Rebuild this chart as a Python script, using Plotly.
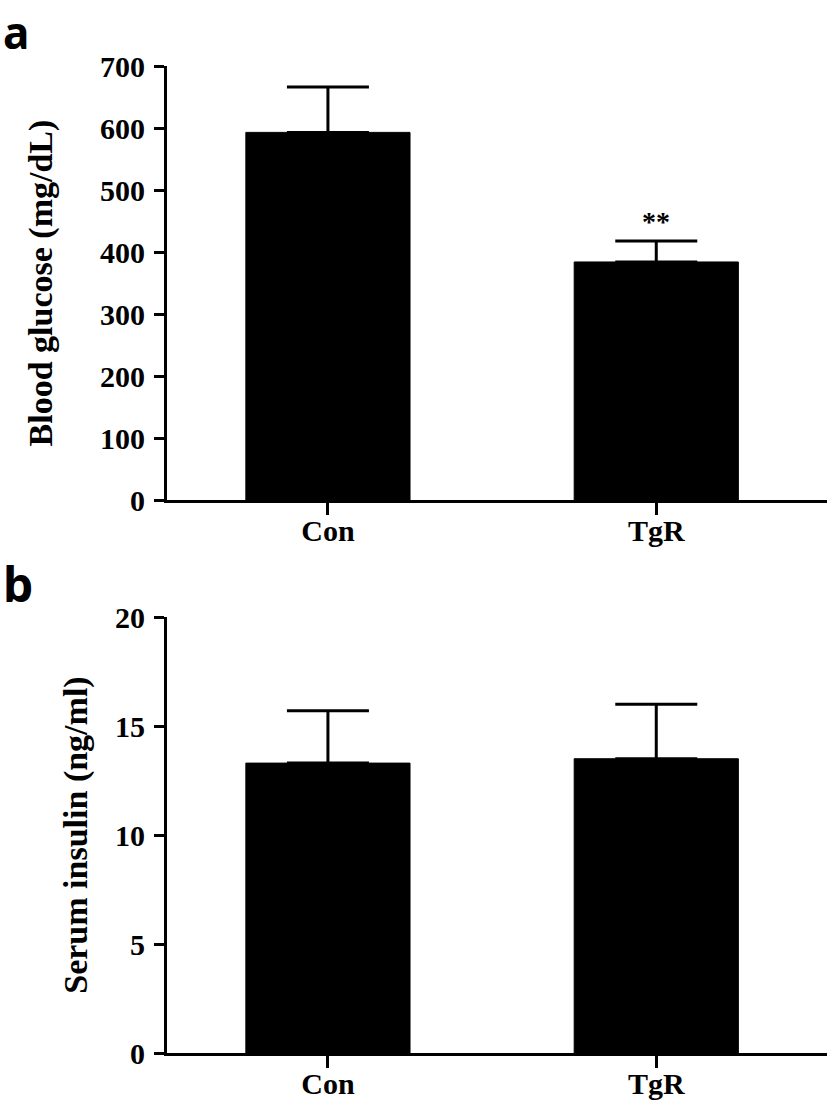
import plotly.graph_objects as go

categories = ["Con", "TgR"]
glucose_mean = [593, 384]
glucose_err = [73, 34]
insulin_mean = [13.3, 13.5]
insulin_err = [2.4, 2.5]
glucose_sig = ["", "**"]

SERIF = "Liberation Serif, Times New Roman, serif"
SANS = "Noto Sans, Open Sans, sans-serif"
fig = go.Figure()

fig.add_trace(go.Bar(
    x=categories, y=glucose_mean, width=0.5,
    marker=dict(color="black", line=dict(color="black", width=1)),
    error_y=dict(type="data", symmetric=False, array=glucose_err,
                 arrayminus=[0, 0], color="black", thickness=3, width=41),
    xaxis="x", yaxis="y", showlegend=False))

fig.add_trace(go.Bar(
    x=categories, y=insulin_mean, width=0.5,
    marker=dict(color="black", line=dict(color="black", width=1)),
    error_y=dict(type="data", symmetric=False, array=insulin_err,
                 arrayminus=[0, 0], color="black", thickness=3, width=41),
    xaxis="x2", yaxis="y2", showlegend=False))

for c, m, e, s in zip(categories, glucose_mean, glucose_err, glucose_sig):
    if s:
        fig.add_annotation(x=c, y=m + e, xref="x", yref="y", text="<b>" + s + "</b>",
                           showarrow=False, yanchor="bottom", yshift=2,
                           font=dict(family=SERIF, size=28, color="black"))

tickfont = dict(family=SERIF, size=30, color="black")
titlefont = dict(family=SERIF, size=34, color="black")
common_x = dict(range=[-0.49, 1.52], showline=True, linecolor="black", linewidth=3,
                ticks="outside", ticklen=12, tickwidth=3, tickcolor="black",
                ticklabelstandoff=-10,
                tickfont=tickfont, showgrid=False, zeroline=False, automargin=False)
common_y = dict(showline=True, linecolor="black", linewidth=3,
                ticks="outside", ticklen=10, tickwidth=3, tickcolor="black",
                ticklabelstandoff=3,
                tickfont=tickfont, showgrid=False, zeroline=False, automargin=False)

fig.update_layout(
    width=827, height=1108,
    margin=dict(l=0, r=0, t=0, b=0, autoexpand=False),
    paper_bgcolor="white", plot_bgcolor="white",
    xaxis=dict(domain=[0.202, 1.0], anchor="y", **common_x),
    yaxis=dict(domain=[0.5487, 0.9404], anchor="x", range=[0, 700], dtick=100,
               title=dict(text="<b>Blood glucose (mg/dL)</b>", font=titlefont, standoff=38),
               **common_y),
    xaxis2=dict(domain=[0.202, 1.0], anchor="y2", **common_x),
    yaxis2=dict(domain=[0.0496, 0.4431], anchor="x2", range=[0, 20], dtick=5,
                title=dict(text="<b>Serum insulin (ng/ml)</b>", font=titlefont, standoff=18),
                **common_y),
)
fig.update_xaxes(tickprefix="<b>", ticksuffix="</b>")
fig.update_yaxes(tickprefix="<b>", ticksuffix="</b>")

fig.add_annotation(x=0.0, y=1.0, xref="paper", yref="paper", text="<b>a</b>",
                   showarrow=False, xanchor="left", yanchor="top", yshift=0, xshift=1,
                   font=dict(family=SANS, size=44, color="black"))
fig.add_annotation(x=0.0, y=1 - 555 / 1108, xref="paper", yref="paper", text="<b>b</b>",
                   showarrow=False, xanchor="left", yanchor="top", yshift=6, xshift=1,
                   font=dict(family=SANS, size=48, color="black"))

fig.write_html("out.html", config={"displayModeBar": False},
               post_script="document.body.style.margin='0';document.body.style.overflow='hidden';")
